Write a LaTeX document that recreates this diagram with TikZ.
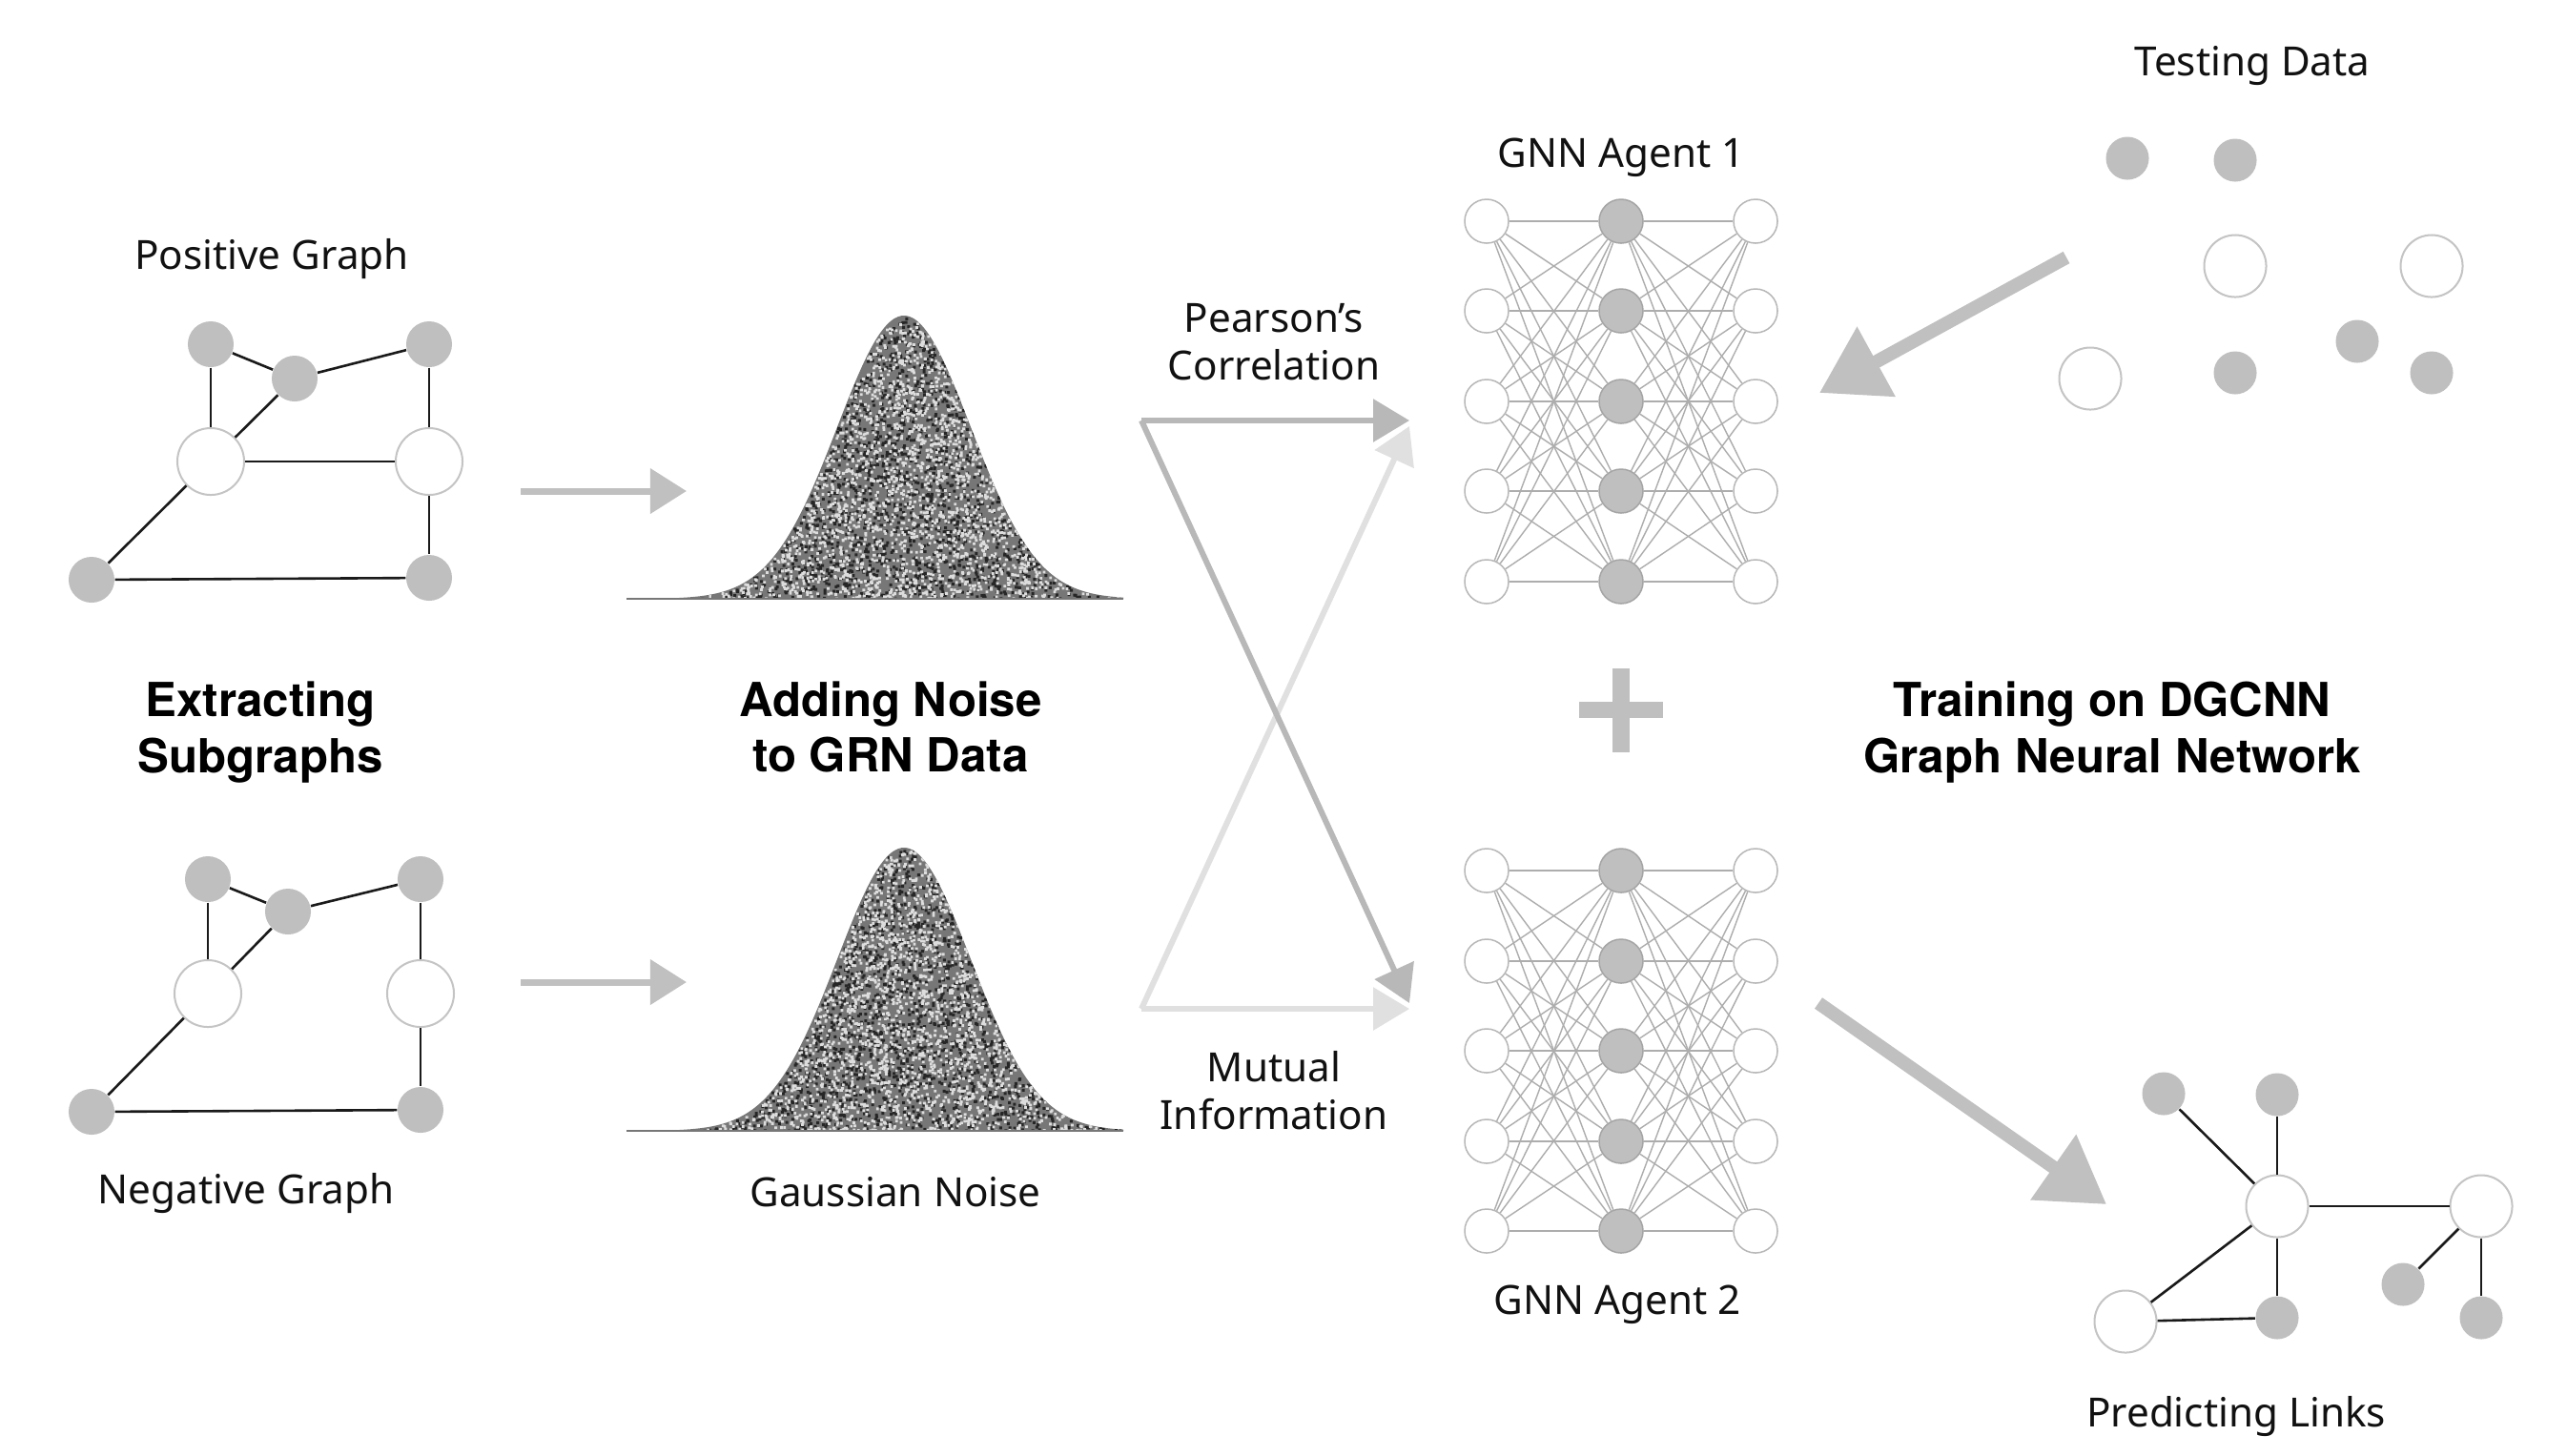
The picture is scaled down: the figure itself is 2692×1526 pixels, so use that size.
\documentclass[tikz,border=0pt]{standalone}
\usepackage{fontspec}
\setmainfont{Noto Sans}
\newfontfamily\herosfam{TeX Gyre Heros}
\usetikzlibrary{arrows.meta}
\definecolor{nodegray}{HTML}{BFBFBF}
\definecolor{wborder}{HTML}{C4C4C4}
\definecolor{arrowgray}{HTML}{C0C0C0}
\definecolor{xdark}{HTML}{B8B8B8}
\definecolor{xlight}{HTML}{E0E0E0}
\definecolor{nnlinecol}{HTML}{ADADAD}
\definecolor{nnborder}{HTML}{A5A5A5}
\definecolor{plusgray}{HTML}{BFBFBF}
\definecolor{noisebase}{HTML}{777777}
\definecolor{noisedark}{HTML}{262626}
\definecolor{noiselight}{HTML}{DDDDDD}
\definecolor{edgecol}{HTML}{1A1A1A}
\definecolor{txt}{HTML}{111111}
\tikzset{
  gnode/.style={circle, fill=nodegray, inner sep=0, minimum size=0.48cm},
  wnode/.style={circle, fill=white, draw=wborder, line width=0.02cm, inner sep=0, minimum size=0.70cm},
  gnodes/.style={circle, fill=nodegray, inner sep=0, minimum size=0.45cm},
  wnodes/.style={circle, fill=white, draw=wborder, line width=0.02cm, inner sep=0, minimum size=0.65cm},
  nnw/.style={circle, fill=white, draw=nnborder!80, line width=0.015cm, inner sep=0, minimum size=0.46cm},
  nng/.style={circle, fill=nodegray, draw=nnborder, line width=0.015cm, inner sep=0, minimum size=0.46cm},
  nnedge/.style={draw=nnlinecol, line width=0.014cm},
  gedge/.style={draw=edgecol, line width=0.026cm},
  smallarrow/.style={draw=arrowgray, line width=0.07cm, -{Triangle[length=0.38cm,width=0.46cm]}},
  bigarrow/.style={draw=arrowgray, line width=0.14cm, -{Triangle[length=0.68cm,width=0.80cm]}},
  xdarkarrow/.style={draw=xdark, line width=0.06cm, -{Triangle[length=0.38cm,width=0.44cm]}},
  xlightarrow/.style={draw=xlight, line width=0.06cm, -{Triangle[length=0.38cm,width=0.44cm]}},
  lab/.style={font=\fontsize{12}{14.2}\selectfont, text=txt, align=center, inner sep=0},
  boldlab/.style={font=\herosfam\bfseries\fontsize{14}{16.5}\selectfont, text=black, align=center, inner sep=0},
}
\newcommand{\noisedots}[3]{%
  \fill[#1] \foreach \i in {1,...,#3} {
    \pgfextra{%
      \pgfmathsetmacro{\uu}{0.0002+0.9998*rnd}%
      \pgfmathsetmacro{\vv}{rnd}%
      \pgfmathsetmacro{\gx}{sqrt(-2*ln(\uu))*cos(360*\vv)}%
      \pgfmathparse{948+70*\gx}\xdef\npx{\pgfmathresult}%
      \pgfmathparse{628-297*exp(-0.5*\gx*\gx)*rnd}\xdef\npy{\pgfmathresult}%
    }
    (\npx,\npy) rectangle ++(#2,#2)
  };
}
\newcommand{\noisebell}{%
  \fill[noisebase] (657,628) -- plot[domain=657:1178, samples=140, smooth] (\x,{628-297*exp(-0.5*((\x-948)/70)^2)}) -- (1178,628) -- cycle;
  \begin{scope}
    \clip (657,628) -- plot[domain=657:1178, samples=140, smooth] (\x,{628-297*exp(-0.5*((\x-948)/70)^2)}) -- (1178,628) -- cycle;
    \noisedots{noisedark}{3.0}{1600}
    \noisedots{noiselight}{2.8}{2000}
  \end{scope}
  \draw[noisebase, line width=0.018cm] (657,628) -- (1178,628);
}
\begin{document}
\begin{tikzpicture}[x=0.01cm, y=-0.01cm]
\useasboundingbox (0,0) rectangle (2692,1526);
\fill[white] (0,0) rectangle (2692,1526);
\pgfmathsetseed{11}

% ---------- Positive graph ----------
\node[lab] (posl) at (285,272) {Positive Graph};
\node[gnode] (p1) at (221,361) {};
\node[gnode] (p2) at (309,397) {};
\node[gnode] (p3) at (450,361) {};
\node[wnode] (p4) at (221,484) {};
\node[wnode] (p5) at (450,484) {};
\node[gnode] (p6) at (96,608) {};
\node[gnode] (p7) at (450,606) {};
\draw[gedge] (p1) -- (p2);
\draw[gedge] (p1) -- (p4);
\draw[gedge] (p2) -- (p4);
\draw[gedge] (p2) -- (p3);
\draw[gedge] (p3) -- (p5);
\draw[gedge] (p4) -- (p5);
\draw[gedge] (p4) -- (p6);
\draw[gedge] (p5) -- (p7);
\draw[gedge] (p6) -- (p7);

% ---------- Negative graph ----------
\node[gnode] (q1) at (218,922) {};
\node[gnode] (q2) at (302,956) {};
\node[gnode] (q3) at (441,922) {};
\node[wnode] (q4) at (218,1042) {};
\node[wnode] (q5) at (441,1042) {};
\node[gnode] (q6) at (96,1166) {};
\node[gnode] (q7) at (441,1164) {};
\draw[gedge] (q1) -- (q2);
\draw[gedge] (q1) -- (q4);
\draw[gedge] (q2) -- (q4);
\draw[gedge] (q2) -- (q3);
\draw[gedge] (q3) -- (q5);
\draw[gedge] (q4) -- (q6);
\draw[gedge] (q5) -- (q7);
\draw[gedge] (q6) -- (q7);
\node[lab] (negl) at (258,1251) {Negative Graph};

\node[boldlab] (extr) at (273,768) {Extracting\\Subgraphs};

% ---------- small arrows ----------
\coordinate (sa1) at (546,515);
\coordinate (sa2) at (720,515);
\coordinate (sb1) at (546,1030);
\coordinate (sb2) at (720,1030);
\draw[smallarrow] (sa1) -- (sa2);
\draw[smallarrow] (sb1) -- (sb2);

% ---------- noise bells ----------
\noisebell
\begin{scope}[shift={(0,558)}]
\noisebell
\end{scope}
\node[boldlab] (noisel) at (934,762) {Adding Noise\\to GRN Data};
\node[lab] (gaussl) at (939,1250) {Gaussian Noise};

% ---------- crossing arrows ----------
\coordinate (ctl) at (1197,441);
\coordinate (cbl) at (1197,1058);
\coordinate (ctr) at (1478,441);
\coordinate (ctr2) at (1478,447);
\coordinate (cbr) at (1478,1058);
\coordinate (cbr2) at (1478,1052);
\draw[xlightarrow] (cbl) -- (cbr);
\draw[xlightarrow] (cbl) -- (ctr2);
\draw[xdarkarrow] (ctl) -- (ctr);
\draw[xdarkarrow] (ctl) -- (cbr2);
\node[lab] (pearl) at (1336,359) {Pearson’s\\Correlation};
\node[lab] (mutl) at (1336,1144) {Mutual\\Information};

% ---------- GNN agent 1 ----------
\node[lab] (g1l) at (1700,165) {GNN Agent 1};
\foreach \r [count=\i] in {232,326,421,515,610} {
  \node[nnw] (aL\i) at (1559,\r) {};
  \node[nng] (aM\i) at (1700,\r) {};
  \node[nnw] (aR\i) at (1841,\r) {};
}
\foreach \i in {1,...,5} {
  \foreach \j in {1,...,5} {
    \draw[nnedge] (aL\i) -- (aM\j);
    \draw[nnedge] (aM\i) -- (aR\j);
  }
}

% ---------- GNN agent 2 ----------
\foreach \r [count=\i] in {913,1008,1102,1197,1291} {
  \node[nnw] (bL\i) at (1559,\r) {};
  \node[nng] (bM\i) at (1700,\r) {};
  \node[nnw] (bR\i) at (1841,\r) {};
}
\foreach \i in {1,...,5} {
  \foreach \j in {1,...,5} {
    \draw[nnedge] (bL\i) -- (bM\j);
    \draw[nnedge] (bM\i) -- (bR\j);
  }
}
\node[lab] (g2l) at (1696,1368) {GNN Agent 2};

% ---------- plus ----------
\fill[plusgray] (1656,736) rectangle (1744,753);
\fill[plusgray] (1691,701) rectangle (1709,789);

\node[boldlab] (trainl) at (2215,768) {Training on DGCNN\\Graph Neural Network};

% ---------- testing data ----------
\node[lab] (testl) at (2362,69) {Testing Data};
\node[gnodes] (t1) at (2231,166) {};
\node[gnodes] (t2) at (2344,168) {};
\node[wnodes] (t3) at (2344,279) {};
\node[wnodes] (t4) at (2550,279) {};
\node[wnodes] (t5) at (2192,397) {};
\node[gnodes] (t6) at (2344,391) {};
\node[gnodes] (t7) at (2472,358) {};
\node[gnodes] (t8) at (2550,391) {};
\coordinate (ta1) at (2167,270);
\coordinate (ta2) at (1908,412);
\draw[bigarrow] (ta1) -- (ta2);

% ---------- predicting links ----------
\coordinate (pa1) at (1907,1052);
\coordinate (pa2) at (2209,1263);
\draw[bigarrow] (pa1) -- (pa2);
\node[gnodes] (r1) at (2269,1147) {};
\node[gnodes] (r2) at (2388,1148) {};
\node[wnodes] (r3) at (2388,1265) {};
\node[wnodes] (r4) at (2602,1265) {};
\node[gnodes] (r5) at (2520,1347) {};
\node[gnodes] (r6) at (2602,1382) {};
\node[wnodes] (r7) at (2229,1386) {};
\node[gnodes] (r8) at (2388,1382) {};
\draw[gedge] (r1) -- (r3);
\draw[gedge] (r2) -- (r3);
\draw[gedge] (r3) -- (r4);
\draw[gedge] (r3) -- (r7);
\draw[gedge] (r3) -- (r8);
\draw[gedge] (r7) -- (r8);
\draw[gedge] (r4) -- (r5);
\draw[gedge] (r4) -- (r6);
\node[lab] (predl) at (2345,1485) {Predicting Links};
\end{tikzpicture}
\end{document}
